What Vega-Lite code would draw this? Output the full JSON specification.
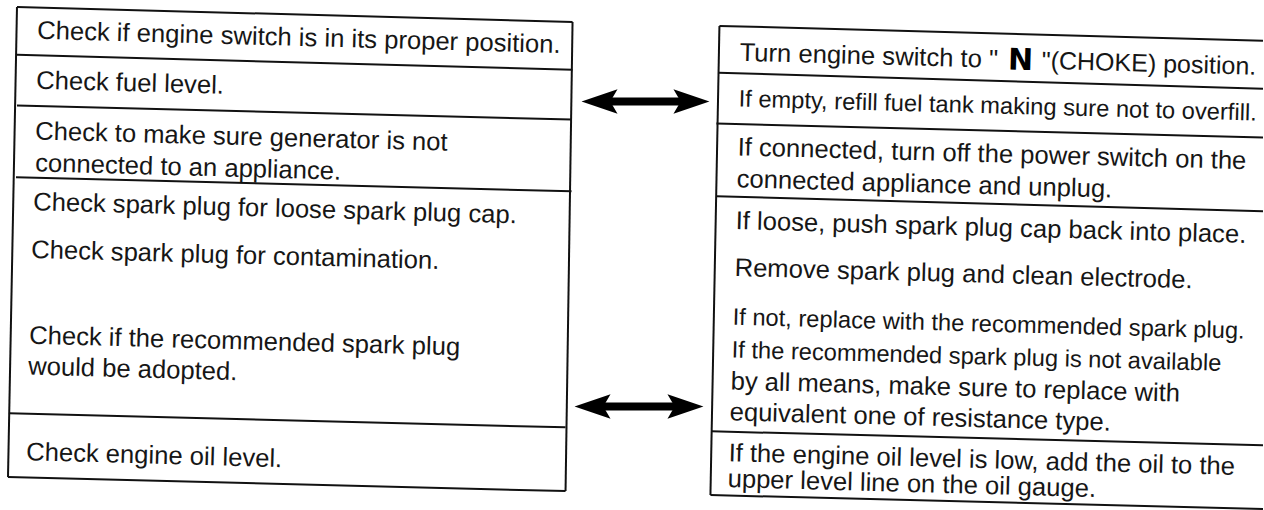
{
  "$schema": "https://vega.github.io/schema/vega-lite/v6.json",
  "width": 1264,
  "height": 510,
  "padding": 0,
  "autosize": {"type": "fit", "contains": "padding"},
  "background": "white",
  "config": {"view": {"stroke": null}},
  "datasets": {
    "lines": [
      {"x": 17, "y": 7, "x2": 573, "y2": 22},
      {"x": 17, "y": 55, "x2": 573, "y2": 70},
      {"x": 17, "y": 106, "x2": 572, "y2": 120},
      {"x": 16, "y": 178, "x2": 572, "y2": 192},
      {"x": 9, "y": 415, "x2": 566, "y2": 429},
      {"x": 8, "y": 479, "x2": 566, "y2": 493},
      {"x": 17, "y": 7, "x2": 8, "y2": 479},
      {"x": 573, "y": 22, "x2": 566, "y2": 493},
      {"x": 720, "y": 26, "x2": 1264, "y2": 41},
      {"x": 719, "y": 73, "x2": 1264, "y2": 89},
      {"x": 717, "y": 124, "x2": 1264, "y2": 138},
      {"x": 717, "y": 197, "x2": 1264, "y2": 212},
      {"x": 712, "y": 433, "x2": 1264, "y2": 447},
      {"x": 711, "y": 497, "x2": 1264, "y2": 511},
      {"x": 720, "y": 26, "x2": 711, "y2": 497}
    ],
    "shafts": [
      {"x": 606, "y": 102, "x2": 686, "y2": 102},
      {"x": 599, "y": 408, "x2": 680, "y2": 408}
    ],
    "heads": [
      {"x": 600, "y": 102, "dir": "left"},
      {"x": 692, "y": 102, "dir": "right"},
      {"x": 593, "y": 408, "dir": "left"},
      {"x": 686, "y": 408, "dir": "right"}
    ],
    "text_regular": [
      {"x": 37, "y": 39, "t": "Check if engine switch is in its proper position."},
      {"x": 36, "y": 89, "t": "Check fuel level."},
      {"x": 35, "y": 140, "t": "Check to make sure generator is not"},
      {"x": 35, "y": 172, "t": "connected to an appliance."},
      {"x": 33, "y": 211, "t": "Check spark plug for loose spark plug cap."},
      {"x": 31, "y": 259, "t": "Check spark plug for contamination."},
      {"x": 29, "y": 345, "t": "Check if the recommended spark plug"},
      {"x": 28, "y": 376, "t": "would be adopted."},
      {"x": 26, "y": 462, "t": "Check engine oil level."},
      {"x": 740, "y": 61, "t": "Turn engine switch to \""},
      {"x": 738, "y": 156, "t": "If connected, turn off the power switch on the"},
      {"x": 737, "y": 188, "t": "connected appliance and unplug."},
      {"x": 736, "y": 230, "t": "If loose, push spark plug cap back into place."},
      {"x": 735, "y": 277, "t": "Remove spark plug and clean electrode."},
      {"x": 731, "y": 391, "t": "by all means, make sure to replace with"},
      {"x": 730, "y": 422, "t": "equivalent one of resistance type."},
      {"x": 729, "y": 463, "t": "If the engine oil level is low, add the oil to the"},
      {"x": 728, "y": 489, "t": "upper level line on the oil gauge."}
    ],
    "text_narrow": [
      {"x": 739, "y": 107, "t": "If empty, refill fuel tank making sure not to overfill."},
      {"x": 733, "y": 326, "t": "If not, replace with the recommended spark plug."},
      {"x": 732, "y": 359, "t": "If the recommended spark plug is not available"}
    ],
    "text_right": [
      {"x": 1257, "y": 75, "t": "\"(CHOKE) position."}
    ],
    "symbol": [
      {"x": 1021, "y": 70, "t": "N"}
    ]
  },
  "encoding": {
    "x": {"field": "x", "type": "quantitative", "scale": {"domain": [0, 1264], "nice": false, "zero": false}, "axis": null},
    "y": {"field": "y", "type": "quantitative", "scale": {"domain": [0, 510], "nice": false, "zero": false, "reverse": true}, "axis": null}
  },
  "layer": [
    {
      "data": {"name": "lines"},
      "mark": {"type": "rule", "color": "#111111", "strokeWidth": 2},
      "encoding": {
        "x2": {"field": "x2"},
        "y2": {"field": "y2"}
      }
    },
    {
      "data": {"name": "shafts"},
      "mark": {"type": "rule", "color": "#000000", "strokeWidth": 8},
      "encoding": {
        "x2": {"field": "x2"},
        "y2": {"field": "y2"}
      }
    },
    {
      "data": {"name": "heads"},
      "mark": {"type": "point", "filled": true, "color": "#000000", "opacity": 1, "size": 1296, "strokeWidth": 0},
      "encoding": {
        "shape": {
          "field": "dir",
          "type": "nominal",
          "scale": {"domain": ["left", "right"], "range": ["M-1,0 L1,-0.68 L0.6,0 L1,0.68 Z", "M1,0 L-1,-0.68 L-0.6,0 L-1,0.68 Z"]},
          "legend": null
        }
      }
    },
    {
      "data": {"name": "text_regular"},
      "mark": {"type": "text", "align": "left", "baseline": "alphabetic", "angle": 1.55, "font": "Liberation Sans", "fontSize": 25.6, "color": "#161616"},
      "encoding": {"text": {"field": "t", "type": "nominal"}}
    },
    {
      "data": {"name": "text_narrow"},
      "mark": {"type": "text", "align": "left", "baseline": "alphabetic", "angle": 1.55, "font": "Liberation Sans", "fontSize": 23.7, "color": "#161616"},
      "encoding": {"text": {"field": "t", "type": "nominal"}}
    },
    {
      "data": {"name": "text_right"},
      "mark": {"type": "text", "align": "right", "baseline": "alphabetic", "angle": 1.55, "font": "Liberation Sans", "fontSize": 25, "color": "#161616"},
      "encoding": {"text": {"field": "t", "type": "nominal"}}
    },
    {
      "data": {"name": "symbol"},
      "mark": {"type": "text", "align": "center", "baseline": "alphabetic", "angle": 1.55, "font": "DejaVu Sans", "fontWeight": "bold", "fontSize": 30, "color": "#000000"},
      "encoding": {"text": {"field": "t", "type": "nominal"}}
    }
  ]
}
